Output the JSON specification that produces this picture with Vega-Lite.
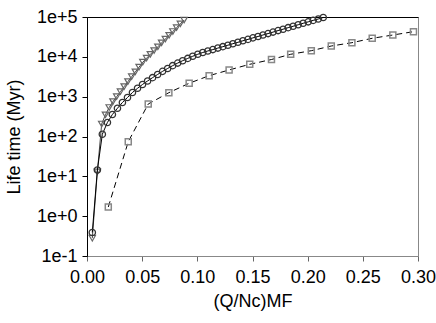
{
  "$schema": "https://vega.github.io/schema/vega-lite/v6.json",
  "width": 331,
  "height": 239,
  "autosize": {"type": "none"},
  "padding": {"left": 87, "top": 17, "right": 18, "bottom": 67},
  "background": "white",
  "config": {
    "view": {"stroke": "#888", "strokeWidth": 1},
    "font": "Liberation Sans",
    "axis": {
      "labelFont": "Liberation Sans", "titleFont": "Liberation Sans",
      "labelFontSize": 18, "titleFontSize": 18,
      "labelColor": "#000", "titleColor": "#000", "titleFontWeight": "normal",
      "grid": false, "tickColor": "#000", "tickSize": 5, "domainColor": "#000", "domainWidth": 1
    }
  },
  "datasets": {
    "circles": [
      {"x":0.0048,"y":0.39},{"x":0.0094,"y":14.4},{"x":0.0139,"y":114},{"x":0.0185,"y":225},{"x":0.0230,"y":357},
      {"x":0.0276,"y":511},{"x":0.0321,"y":714},{"x":0.0367,"y":953},{"x":0.0412,"y":1274},{"x":0.0458,"y":1622},
      {"x":0.0503,"y":2023},{"x":0.0549,"y":2476},{"x":0.0594,"y":2999},{"x":0.0640,"y":3606},{"x":0.0685,"y":4315},
      {"x":0.0731,"y":5105},{"x":0.0776,"y":5998},{"x":0.0822,"y":6966},{"x":0.0867,"y":8000},{"x":0.0913,"y":9140},
      {"x":0.0958,"y":10330},{"x":0.1004,"y":11590},{"x":0.1049,"y":12850},{"x":0.1095,"y":14030},{"x":0.1140,"y":15210},
      {"x":0.1186,"y":16600},{"x":0.1231,"y":17990},{"x":0.1277,"y":19590},{"x":0.1322,"y":21380},{"x":0.1368,"y":23170},
      {"x":0.1413,"y":25290},{"x":0.1459,"y":27420},{"x":0.1504,"y":29920},{"x":0.1550,"y":32430},{"x":0.1595,"y":35390},
      {"x":0.1641,"y":38370},{"x":0.1686,"y":41780},{"x":0.1732,"y":45600},{"x":0.1777,"y":49430},{"x":0.1823,"y":53950},
      {"x":0.1868,"y":58480},{"x":0.1914,"y":63830},{"x":0.1959,"y":69500},{"x":0.2005,"y":75510},{"x":0.2050,"y":82220},
      {"x":0.2096,"y":89130},{"x":0.2141,"y":97270}
    ],
    "triangles": [
      {"x":0.0048,"y":0.28},{"x":0.0094,"y":13},{"x":0.0133,"y":206},{"x":0.0167,"y":351},{"x":0.0201,"y":535},
      {"x":0.0235,"y":750},{"x":0.0269,"y":1000},{"x":0.0303,"y":1334},{"x":0.0337,"y":1786},{"x":0.0371,"y":2384},
      {"x":0.0405,"y":3175},{"x":0.0438,"y":4190},{"x":0.0472,"y":5530},{"x":0.0506,"y":7340},{"x":0.0540,"y":9250},
      {"x":0.0574,"y":11530},{"x":0.0608,"y":14360},{"x":0.0642,"y":17870},{"x":0.0676,"y":22390},{"x":0.0710,"y":27910},
      {"x":0.0744,"y":34750},{"x":0.0778,"y":43280},{"x":0.0812,"y":53950},{"x":0.0846,"y":67610},{"x":0.0880,"y":84140}
    ],
    "squares": [
      {"x":0.0193,"y":1.7},{"x":0.0374,"y":74},{"x":0.0555,"y":655},{"x":0.0742,"y":1259},{"x":0.0926,"y":2170},
      {"x":0.1107,"y":3365},{"x":0.1288,"y":4680},{"x":0.1475,"y":6500},{"x":0.1672,"y":8570},{"x":0.1846,"y":11590},
      {"x":0.2033,"y":14260},{"x":0.2214,"y":18700},{"x":0.2401,"y":22650},{"x":0.2585,"y":29200},{"x":0.2772,"y":35300},
      {"x":0.2959,"y":42800}
    ]
  },
  "resolve": {"axis": {"x": "independent"}},
  "layer": [
    {
      "data": {"name": "squares"},
      "mark": {"type": "line", "color": "#000", "strokeWidth": 1, "strokeDash": [6, 4]},
      "encoding": {
        "x": {"field": "x", "type": "quantitative", "scale": {"domain": [0, 0.3], "nice": false, "zero": false},
          "axis": {"orient": "bottom", "values": [0, 0.05, 0.1, 0.15, 0.2, 0.25, 0.3], "format": ".2f",
            "title": "(Q/Nc)MF", "labelPadding": 7, "titleY": 50, "titleBaseline": "alphabetic",
            "domainColor": "#888", "tickColor": "#666", "labelFlush": false}},
        "y": {"field": "y", "type": "quantitative", "scale": {"type": "log", "domain": [0.1, 100000], "nice": false},
          "axis": {"values": [0.1, 1, 10, 100, 1000, 10000, 100000], "format": ".0e", "title": "Life time (Myr)",
            "titleX": -68, "titleBaseline": "alphabetic", "labelPadding": 5}}
      }
    },
    {
      "data": {"name": "squares"},
      "mark": {"type": "point", "shape": "square", "filled": false, "color": "#888", "strokeWidth": 1.5, "size": 36, "opacity": 1},
      "encoding": {
        "x": {"field": "x", "type": "quantitative", "axis": null},
        "y": {"field": "y", "type": "quantitative"}
      }
    },
    {
      "data": {"name": "triangles"},
      "mark": {"type": "line", "color": "#444", "strokeWidth": 1},
      "encoding": {
        "x": {"field": "x", "type": "quantitative", "axis": null},
        "y": {"field": "y", "type": "quantitative"}
      }
    },
    {
      "data": {"name": "triangles"},
      "mark": {"type": "point", "shape": "triangle-down", "filled": false, "color": "#666", "strokeWidth": 1.2, "size": 40, "opacity": 1},
      "encoding": {
        "x": {"field": "x", "type": "quantitative", "axis": null},
        "y": {"field": "y", "type": "quantitative"}
      }
    },
    {
      "data": {"name": "circles"},
      "mark": {"type": "line", "color": "#000", "strokeWidth": 1},
      "encoding": {
        "x": {"field": "x", "type": "quantitative", "axis": null},
        "y": {"field": "y", "type": "quantitative"}
      }
    },
    {
      "data": {"name": "circles"},
      "mark": {"type": "point", "shape": "circle", "filled": false, "color": "#333", "strokeWidth": 1.3, "size": 40, "opacity": 1},
      "encoding": {
        "x": {"field": "x", "type": "quantitative",
          "axis": {"orient": "top", "labels": false, "ticks": false, "title": null, "domainColor": "#000"}},
        "y": {"field": "y", "type": "quantitative"}
      }
    }
  ]
}
